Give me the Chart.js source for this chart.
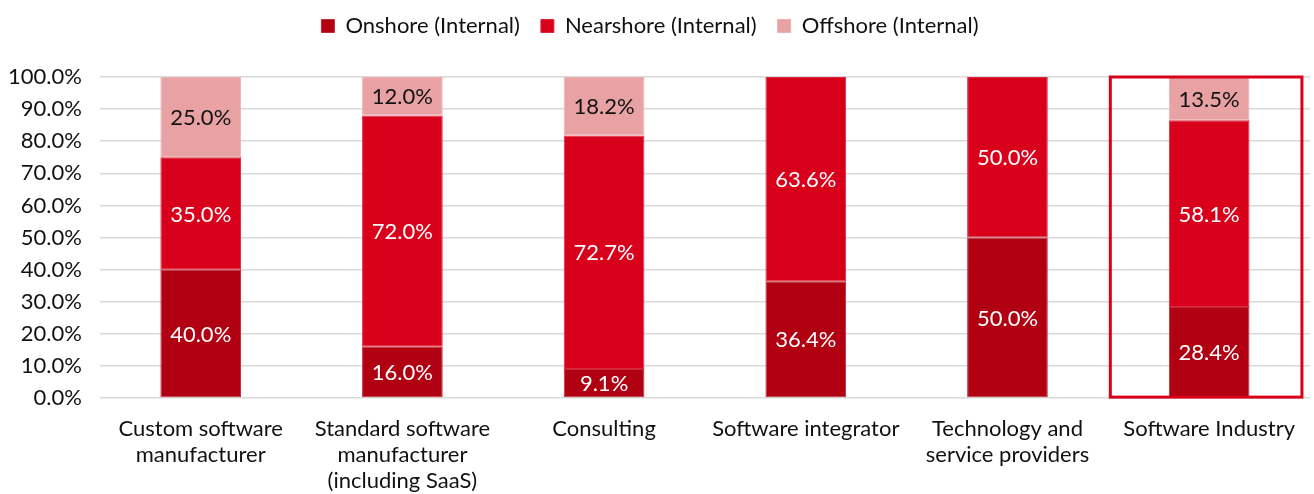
<!DOCTYPE html>
<html>
<head>
<meta charset="utf-8">
<script src="https://cdn.jsdelivr.net/npm/chart.js@4"></script>
<style>
  html, body { margin: 0; padding: 0; background: #fff; }
  #wrap { width: 1314px; height: 494px; }
</style>
</head>
<body>
<div id="wrap"><canvas id="mainChart" width="1314" height="494"></canvas></div>
<script>
// ======================
// DATA
// ======================
const categories = [
  ['Custom software', 'manufacturer'],
  ['Standard software', 'manufacturer', '(including SaaS)'],
  'Consulting',
  'Software integrator',
  ['Technology and', 'service providers'],
  'Software Industry'
];
const onshore   = [0.400, 0.160, 0.091, 0.364, 0.500, 0.284];
const nearshore = [0.350, 0.720, 0.727, 0.636, 0.500, 0.581];
const offshore  = [0.250, 0.120, 0.182, 0.000, 0.000, 0.135];
const seriesNames = ['Onshore (Internal)', 'Nearshore (Internal)', 'Offshore (Internal)'];
const highlightIndex = 5;

const FONT = 'Lato, "Open Sans", sans-serif';

function pct(v) {
  return (v * 100).toFixed(1) + '%';
}

// ======================
// LABELS IN BARS
// ======================
const barLabels = {
  id: 'barLabels',
  afterDatasetsDraw(chart) {
    const ctx = chart.ctx;
    ctx.save();
    ctx.font = '22px ' + FONT;
    ctx.textAlign = 'center';
    ctx.textBaseline = 'middle';
    chart.data.datasets.forEach((ds, di) => {
      const meta = chart.getDatasetMeta(di);
      meta.data.forEach((bar, i) => {
        const v = ds.data[i];
        if (!v) return;
        ctx.fillStyle = ds.labelColor;
        ctx.fillText(pct(v), bar.x, (bar.y + bar.base) / 2 + 1);
      });
    });
    ctx.restore();
  }
};

// ======================
// HIGHLIGHT BOX
// ======================
const highlightBox = {
  id: 'highlightBox',
  afterDatasetsDraw(chart) {
    const x = chart.scales.x;
    const y = chart.scales.y;
    const step = x.getPixelForValue(1) - x.getPixelForValue(0);
    const cx = x.getPixelForValue(highlightIndex);
    const left = cx - step * 0.49;
    const right = cx + step * 0.46;
    const top = y.getPixelForValue(1);
    const bottom = y.getPixelForValue(0) - 1;
    const ctx = chart.ctx;
    ctx.save();
    ctx.strokeStyle = '#D9001B';
    ctx.lineWidth = 3;
    ctx.strokeRect(left, top, right - left, bottom - top);
    ctx.restore();
  }
};

// ======================
// LEGEND GAP (space under legend)
// ======================
const legendGap = {
  id: 'legendGap',
  beforeInit(chart) {
    const fit = chart.legend.fit;
    chart.legend.fit = function () {
      fit.call(this);
      this.height += 30;
    };
  }
};

// ======================
// CHART
// ======================
const canvas = document.getElementById('mainChart');

new Chart(canvas, {
  type: 'bar',
  data: {
    labels: categories,
    datasets: [
      { label: seriesNames[0], data: onshore,   backgroundColor: '#B00012', borderColor: '#BD2A38', labelColor: '#fff' },
      { label: seriesNames[1], data: nearshore, backgroundColor: '#D9001B', borderColor: '#E0263D', labelColor: '#fff' },
      { label: seriesNames[2], data: offshore,  backgroundColor: '#E8A2A4', borderColor: '#EDB2B4', labelColor: '#111' }
    ].map(d => Object.assign(d, {
      borderWidth: 1,
      borderSkipped: false,
      barPercentage: 0.4,
      categoryPercentage: 1
    }))
  },
  options: {
    responsive: false,
    animation: false,
    layout: { padding: { top: -6, left: -10, right: 4, bottom: -10 } },
    plugins: {
      legend: {
        position: 'top',
        labels: {
          boxWidth: 13,
          boxHeight: 13,
          padding: 21,
          color: '#111',
          font: { family: FONT, size: 22 }
        }
      },
      tooltip: { enabled: false }
    },
    scales: {
      x: {
        stacked: true,
        grid: { display: false },
        border: { display: false },
        ticks: {
          color: '#111',
          maxRotation: 0,
          autoSkip: false,
          padding: 10,
          font: { family: FONT, size: 22, lineHeight: 1.18 }
        }
      },
      y: {
        stacked: true,
        min: 0,
        max: 1,
        grid: { color: '#D9D9D9', lineWidth: 1.5, drawTicks: false },
        border: { display: false },
        ticks: {
          stepSize: 0.1,
          padding: 18,
          color: '#111',
          font: { family: FONT, size: 22 },
          callback: v => pct(v)
        }
      }
    }
  },
  plugins: [barLabels, highlightBox, legendGap]
});
</script>
</body>
</html>
